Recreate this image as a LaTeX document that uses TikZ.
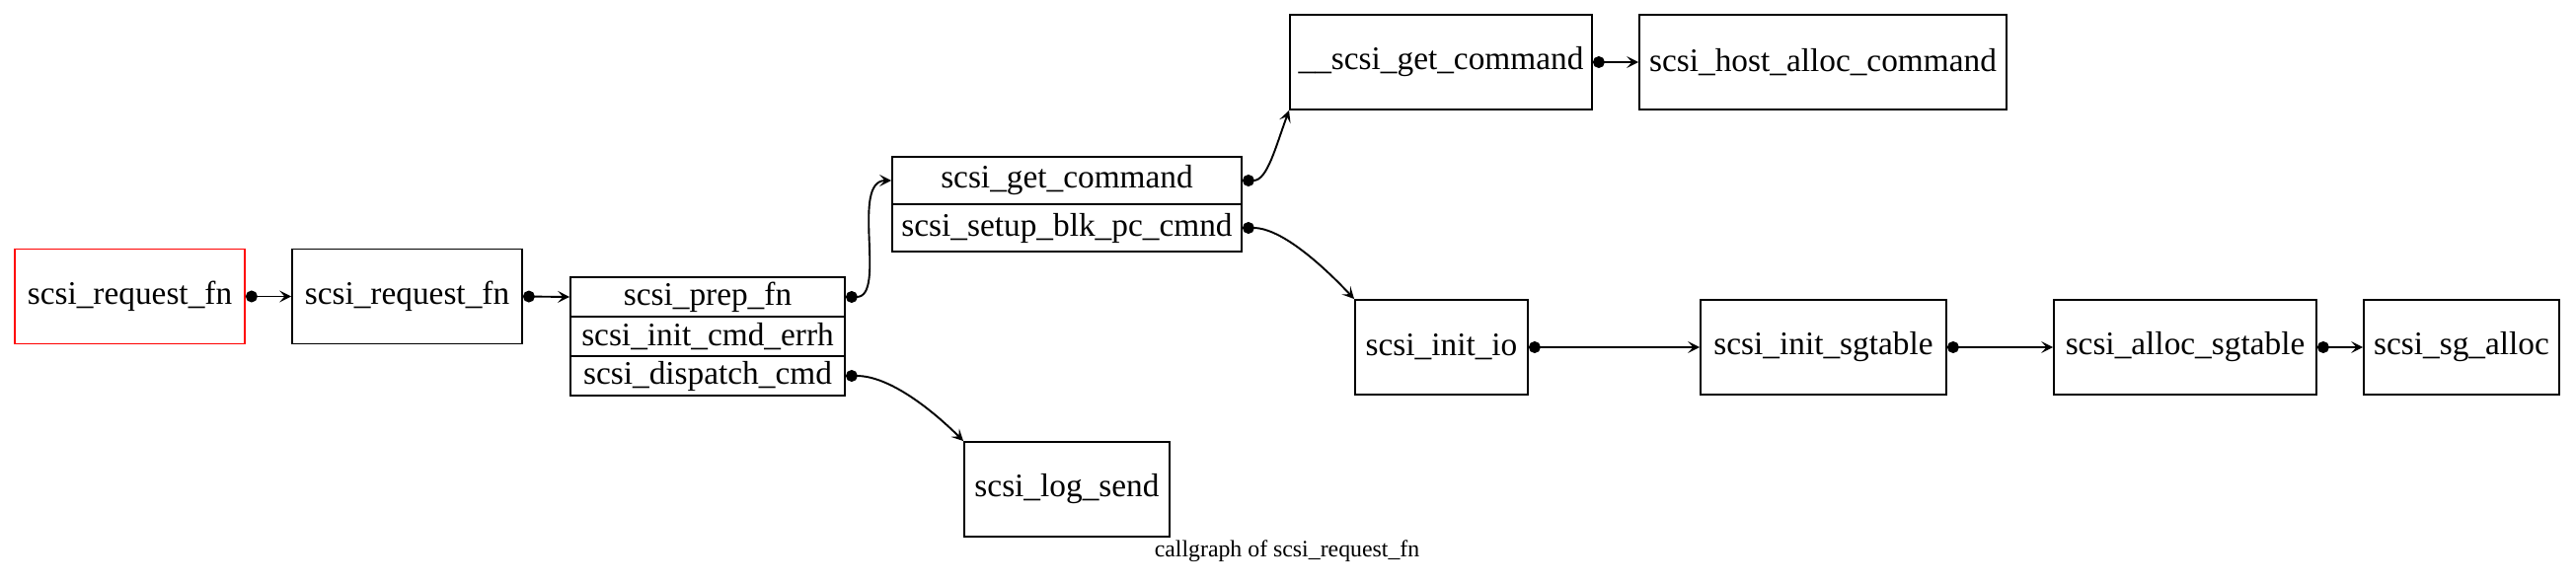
\documentclass[tikz,border=0pt]{standalone}
\usepackage{fontspec}
\setmainfont{Liberation Serif}
\usetikzlibrary{arrows.meta}
\begin{document}
\begin{tikzpicture}[x=0.42pt,y=-0.42pt,
  fn/.style={draw, line width=0.8pt, inner sep=0pt, anchor=center,
    font=\fontsize{14}{16}\selectfont, minimum height=96*0.42pt},
  row/.style={draw, line width=0.8pt, inner sep=0pt, anchor=center,
    font=\fontsize{14}{16}\selectfont},
  call/.style={line width=0.8pt,
    {Circle[length=5pt,width=5pt]}-{Stealth[length=5pt,width=5pt,inset=2.2pt]}},
  caption/.style={font=\fontsize{10}{12}\selectfont, inner sep=0pt}
]
\useasboundingbox (0,0) rectangle (2610,591);
% nodes
\node[fn, draw=red, minimum width=233*0.42pt] (root) at (131.5,300.5) {scsi\_request\_fn};
\node[fn, minimum width=233*0.42pt] (req) at (412.5,300.5) {scsi\_request\_fn};
\node[row, minimum width=278*0.42pt, minimum height=40*0.42pt] (prepA) at (717,301) {scsi\_prep\_fn};
\node[row, minimum width=278*0.42pt, minimum height=40*0.42pt] (prepB) at (717,341) {scsi\_init\_cmd\_errh};
\node[row, minimum width=278*0.42pt, minimum height=40*0.42pt] (prepC) at (717,381) {scsi\_dispatch\_cmd};
\node[row, minimum width=354*0.42pt, minimum height=48*0.42pt] (getA) at (1081,183) {scsi\_get\_command};
\node[row, minimum width=354*0.42pt, minimum height=48*0.42pt] (getB) at (1081,231) {scsi\_setup\_blk\_pc\_cmnd};
\node[fn, minimum width=306*0.42pt] (uget) at (1460,63) {\_\_scsi\_get\_command};
\node[fn, minimum width=372*0.42pt] (host) at (1847,63) {scsi\_host\_alloc\_command};
\node[fn, minimum width=175*0.42pt] (initio) at (1460.5,352) {scsi\_init\_io};
\node[fn, minimum width=249*0.42pt] (initsg) at (1847.5,352) {scsi\_init\_sgtable};
\node[fn, minimum width=266*0.42pt] (allocsg) at (2214,352) {scsi\_alloc\_sgtable};
\node[fn, minimum width=198*0.42pt] (sgalloc) at (2494,352) {scsi\_sg\_alloc};
\node[fn, minimum width=208*0.42pt] (logsend) at (1081,496) {scsi\_log\_send};
\node[caption] (cap) at (1304,559) {callgraph of scsi\_request\_fn};
% edges
\draw[call] (root.east) -- (req.west);
\draw[call] (req.east) -- (prepA.west);
\draw[call] (prepA.east) .. controls +(42,0) and +(-42,0) .. (getA.west);
\draw[call] (prepC.east) .. controls +(45,0) and +(-30,-30) .. (logsend.north west);
\draw[call] (getA.east) .. controls +(25,0) and +(-14,38) .. (uget.south west);
\draw[call] (getB.east) .. controls +(40,0) and +(-30,-32) .. (initio.north west);
\draw[call] (uget.east) -- (host.west);
\draw[call] (initio.east) -- (initsg.west);
\draw[call] (initsg.east) -- (allocsg.west);
\draw[call] (allocsg.east) -- (sgalloc.west);
\end{tikzpicture}
\end{document}
